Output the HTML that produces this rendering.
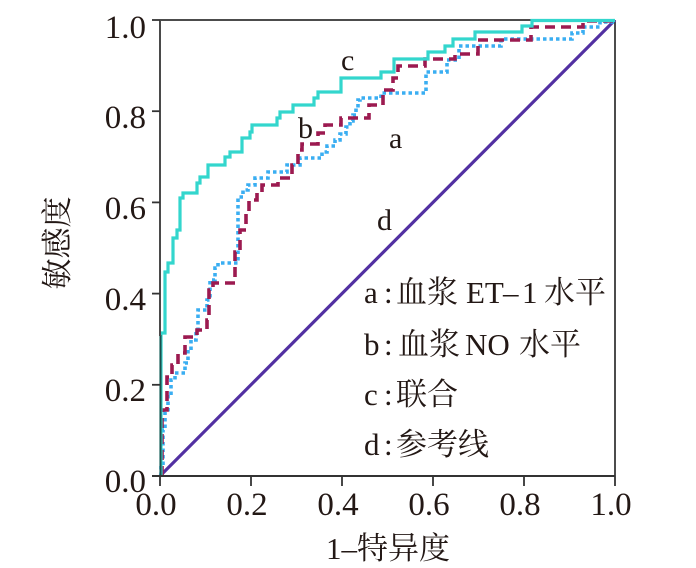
<!DOCTYPE html>
<html><head><meta charset="utf-8">
<style>
html,body{margin:0;padding:0;background:#fff;}
svg{display:block;}
.t{font-family:"Liberation Serif","Noto Serif CJK SC",serif;fill:#231815;}
.c{font-family:"Liberation Serif","Noto Serif CJK SC","Noto Sans CJK SC",serif;fill:#231815;}
</style></head>
<body>
<svg width="696" height="568" viewBox="0 0 696 568" xmlns="http://www.w3.org/2000/svg">
<rect width="696" height="568" fill="#fff"/>
<!-- frame -->
<line x1="160" y1="20" x2="615" y2="20" stroke="#111" stroke-width="1.5"/>
<line x1="615" y1="20" x2="615" y2="476" stroke="#111" stroke-width="1.5"/>
<!-- reference line d -->
<line x1="160" y1="476" x2="615" y2="20" stroke="#5230a2" stroke-width="3.2"/>
<!-- a: blue dotted -->
<path d="M161,476 V465 H163 V430 H165 V412 H168 V395 H171 V380 H175 V373 H185 V363 H188 V350 H191 V340 H196 V330 H198 V310 H207 V300 H210 V280 H215 V268 H218 V263 H238 V197 H243 V190 H248 V185 H255 V178 H268 V172 H287 V165 H300 V158 H322 V152 H327 V146 H335 V140 H340 V134 H346 V127 H350 V121 H353 V115 H356 V108 H358 V100 H360 V98 H381 V93 H426 V72 H447 V60 H459 V46 H501 V39 H572 V33 H583 V27 H600 V22 H615" fill="none" stroke="#3aaef2" stroke-width="3.6" stroke-dasharray="3.5 3"/>
<!-- b: maroon dashed -->
<path d="M162,476 V410 H167 V377 H172 V365 H178 V353 H185 V337 H197 V330 H207 V320 H209 V290 H213 V283 H235 V252 H240 V230 H246 V213 H249 V200 H257 V193 H262 V185 H278 V178 H292 V165 H298 V150 H302 V144 H318 V133 H325 V125 H341 V118 H369 V105 H383 V90 H393 V78 H398 V66 H425 V59 H455 V54 H478 V40 H531 V27 H583 V21 H615" fill="none" stroke="#9c1a50" stroke-width="3.6" stroke-dasharray="10 6"/>
<!-- c: cyan solid -->
<path d="M161,476 V333 H165 V272 H168 V263 H173 V238 H177 V230 H180 V198 H183 V193 H197 V183 H200 V177 H208 V165 H225 V157 H230 V152 H242 V138 H250 V132 H252 V125 H277 V118 H280 V112 H293 V105 H314 V98 H318 V92 H341 V78 H381 V72 H394 V59 H428 V52 H445 V46 H453 V39 H475 V32 H522 V26 H532 V20.5 H615" fill="none" stroke="#33d6cd" stroke-width="3.2"/>
<line x1="160.5" y1="476" x2="160.5" y2="335" stroke="#1d4f4c" stroke-width="2"/>
<!-- axes -->
<line x1="160" y1="20" x2="160" y2="336" stroke="#4a4a4a" stroke-width="2"/>
<line x1="152" y1="476" x2="615" y2="476" stroke="#333" stroke-width="2"/>
<g stroke="#333" stroke-width="1.8">
<line x1="152" y1="20" x2="160" y2="20"/>
<line x1="152" y1="111.2" x2="160" y2="111.2"/>
<line x1="152" y1="202.4" x2="160" y2="202.4"/>
<line x1="152" y1="293.6" x2="160" y2="293.6"/>
<line x1="152" y1="384.8" x2="160" y2="384.8"/>
<line x1="160" y1="476" x2="160" y2="486"/>
<line x1="251" y1="476" x2="251" y2="486"/>
<line x1="342" y1="476" x2="342" y2="486"/>
<line x1="433" y1="476" x2="433" y2="486"/>
<line x1="524" y1="476" x2="524" y2="486"/>
<line x1="615" y1="476" x2="615" y2="486"/>
</g>
<!-- y tick labels -->
<g class="t" font-size="33" text-anchor="end">
<text x="146" y="38">1.0</text>
<text x="146" y="128">0.8</text>
<text x="146" y="219">0.6</text>
<text x="146" y="310">0.4</text>
<text x="146" y="401">0.2</text>
<text x="146" y="492">0.0</text>
</g>
<!-- x tick labels -->
<g class="t" font-size="33" text-anchor="middle">
<text x="156" y="515">0.0</text>
<text x="247" y="515">0.2</text>
<text x="338" y="515">0.4</text>
<text x="429" y="515">0.6</text>
<text x="520" y="515">0.8</text>
<text x="611" y="515">1.0</text>
</g>
<!-- axis titles -->
<text class="c" font-size="31" text-anchor="middle" x="388" y="559">1–特异度</text>
<text class="c" font-size="31" text-anchor="middle" transform="translate(68,243) rotate(-90)">敏感度</text>
<!-- curve labels -->
<g class="t" font-size="30">
<text x="341" y="70">c</text>
<text x="298" y="138">b</text>
<text x="389" y="148">a</text>
<text x="377" y="230">d</text>
</g>
<!-- legend -->
<g class="c" font-size="31">
<text y="303"><tspan x="364">a</tspan><tspan x="384">:</tspan><tspan x="396">血浆</tspan><tspan x="466">ET</tspan><tspan x="503">–</tspan><tspan x="522">1</tspan><tspan x="544">水平</tspan></text>
<text y="355"><tspan x="364">b</tspan><tspan x="384">:</tspan><tspan x="398">血浆</tspan><tspan x="465">NO</tspan><tspan x="519">水平</tspan></text>
<text y="405"><tspan x="364">c</tspan><tspan x="384">:</tspan><tspan x="396">联合</tspan></text>
<text y="455"><tspan x="364">d</tspan><tspan x="384">:</tspan><tspan x="396">参考线</tspan></text>
</g>
</svg>
</body></html>
